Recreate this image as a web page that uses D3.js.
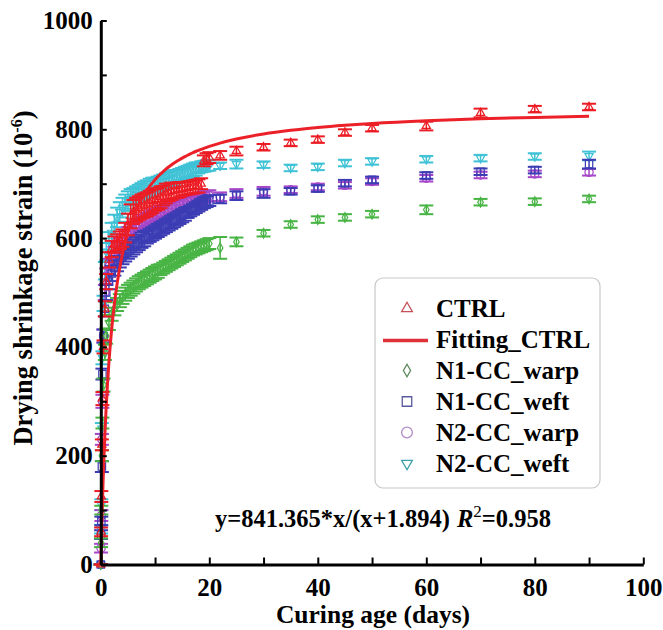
<!DOCTYPE html>
<html>
<head>
<meta charset="utf-8">
<script src="https://cdn.jsdelivr.net/npm/d3@7"></script>
<style>
  body { margin: 0; background: #fff; }
  svg text { font-family: "Liberation Serif", "Times New Roman", serif; font-weight: bold; fill: #000; }
</style>
</head>
<body>
<svg id="chart" width="663" height="630"></svg>
<script>
// curing age in days, shared by all series
var days = [0, 0.05, 0.1, 0.2, 0.3, 0.5, 0.75,
  1, 1.5, 2, 2.5, 3, 3.5, 4, 4.5, 5, 5.5, 6, 6.5, 7, 7.5, 8, 8.5, 9, 9.5, 10,
  10.5, 11, 11.5, 12, 12.5, 13, 13.5, 14, 14.5, 15, 15.5, 16, 16.5, 17, 17.5, 18, 18.5, 19, 19.5, 20,
  22, 25, 30, 35, 40, 45, 50, 60, 70, 80, 90];

var ctrl = [0, 60, 125, 220, 305, 400, 470,
  520, 560, 580, 588, 592, 596, 600, 610, 625, 640, 648, 652, 655, 658, 660, 662, 665, 668, 670,
  672, 675, 678, 682, 684, 686, 687, 688, 689, 690, 691, 692, 693, 694, 695, 696, 700, 742, 746, 748,
  752, 760, 767, 775, 781, 794, 802, 806, 830, 837, 841];
var ctrlErr = [0, 8, 10, 10, 12, 12, 14,
  14, 14, 15, 15, 15, 16, 16, 18, 20, 22, 22, 22, 22, 22, 22, 22, 22, 22, 20,
  20, 20, 18, 18, 16, 16, 14, 14, 14, 12, 12, 12, 12, 12, 12, 12, 10, 10, 10, 10,
  8, 8, 6, 6, 6, 6, 6, 8, 8, 6, 6];

var n1Warp = [0, 40, 100, 200, 260, 330, 390,
  420, 445, 460, 470, 478, 485, 491, 497, 502, 506, 510, 514, 518, 521, 524, 527, 530, 533, 536,
  539, 542, 545, 548, 551, 554, 557, 560, 563, 566, 569, 572, 575, 578, 580, 582, 584, 586, 588, 590,
  582, 593, 609, 625, 634, 638, 644, 652, 666, 667, 672];
var n1WarpErr = [0, 8, 8, 10, 10, 12, 14,
  14, 14, 12, 12, 12, 12, 12, 12, 12, 12, 12, 12, 12, 12, 12, 12, 12, 12, 12,
  12, 10, 10, 10, 10, 10, 10, 10, 10, 10, 10, 10, 10, 10, 10, 10, 10, 10, 10, 10,
  20, 8, 6, 6, 6, 6, 6, 8, 6, 6, 6];

var n1Weft = [0, 55, 80, 180, 350, 420, 470,
  500, 520, 535, 545, 553, 560, 566, 571, 576, 580, 584, 588, 592, 596, 599, 602, 605, 608, 611,
  614, 617, 620, 623, 626, 629, 632, 635, 638, 641, 644, 647, 650, 653, 656, 659, 662, 665, 667, 669,
  672, 678, 682, 686, 691, 701, 707, 715, 722, 725, 736];
var n1WeftErr = [0, 8, 8, 10, 10, 12, 14,
  14, 14, 14, 14, 14, 14, 14, 14, 14, 14, 14, 14, 14, 14, 14, 12, 12, 12, 12,
  12, 12, 12, 12, 12, 12, 12, 12, 12, 12, 12, 10, 10, 10, 10, 10, 10, 10, 10, 10,
  8, 8, 8, 6, 6, 6, 6, 6, 6, 6, 8];

var n2Warp = [0, 30, 90, 230, 300, 420, 500,
  530, 548, 560, 570, 578, 586, 593, 600, 606, 611, 616, 620, 624, 628, 631, 634, 637, 640, 642,
  645, 647, 649, 651, 653, 655, 657, 659, 661, 663, 665, 667, 668, 670, 671, 673, 674, 676, 677, 678,
  676, 682, 686, 689, 694, 697, 704, 710, 716, 718, 721];
var n2WarpErr = [0, 8, 10, 10, 12, 12, 14,
  14, 14, 14, 14, 14, 14, 14, 14, 14, 14, 14, 14, 12, 12, 12, 12, 12, 12, 12,
  12, 12, 12, 12, 12, 12, 12, 12, 12, 12, 10, 10, 10, 10, 10, 10, 10, 10, 10, 10,
  8, 8, 8, 6, 6, 6, 6, 6, 6, 6, 6];

var n2Weft = [0, 65, 110, 250, 380, 480, 540,
  575, 595, 610, 625, 638, 648, 656, 662, 668, 672, 676, 679, 682, 685, 688, 690, 693, 695, 697,
  699, 701, 703, 705, 707, 709, 711, 713, 715, 717, 719, 721, 723, 725, 727, 729, 731, 732, 733, 734,
  733, 736, 735, 729, 731, 738, 741, 745, 747, 750, 751];
var n2WeftErr = [0, 8, 10, 10, 12, 14, 16,
  16, 16, 18, 18, 18, 18, 18, 18, 18, 18, 16, 16, 16, 16, 16, 16, 16, 16, 14,
  14, 14, 14, 14, 14, 14, 14, 12, 12, 12, 12, 12, 12, 12, 12, 10, 10, 10, 10, 10,
  6, 8, 6, 6, 6, 6, 6, 6, 6, 6, 8];

// fitted hyperbolic model shown on the chart
var fitA = 841.365, fitB = 1.894;

var yTicks = [0, 100, 200, 300, 400, 500, 600, 700, 800, 900, 1000];
var xTicks = [0, 10, 20, 30, 40, 50, 60, 70, 80, 90, 100];

var svg = d3.select("#chart");
var x = d3.scaleLinear().domain([0, 100]).range([100.8, 643.3]);
var y = d3.scaleLinear().domain([0, 1000]).range([564.5, 20.5]);

var series = [
  {name: "CTRL", values: ctrl, err: ctrlErr, color: "#ec1c24", symbol: d3.symbolTriangle, size: 50, rot: 0, legendColor: "#c8505a"},
  {name: "N1-CC_warp", values: n1Warp, err: n1WarpErr, color: "#48b444", symbol: d3.symbolDiamond, size: 45, rot: 0, legendColor: "#5a8a5a"},
  {name: "N1-CC_weft", values: n1Weft, err: n1WeftErr, color: "#3c3cb4", symbol: d3.symbolSquare, size: 90, rot: 0, legendColor: "#5a5aa0"},
  {name: "N2-CC_warp", values: n2Warp, err: n2WarpErr, color: "#a646c8", symbol: d3.symbolCircle, size: 90, rot: 0, legendColor: "#b48cc8"},
  {name: "N2-CC_weft", values: n2Weft, err: n2WeftErr, color: "#40c2d6", symbol: d3.symbolTriangle, size: 50, rot: 180, legendColor: "#3ca0a8"}
];

// draw the last legend entry first so CTRL ends up on top
series.slice().reverse().forEach(function(s) {
  var g = svg.append("g").attr("stroke", s.color).attr("fill", "none");
  var pts = g.selectAll("g").data(days).enter().append("g");
  pts.append("line")
    .attr("x1", function(d) { return x(d); })
    .attr("x2", function(d) { return x(d); })
    .attr("y1", function(d, i) { return y(s.values[i] - s.err[i]); })
    .attr("y2", function(d, i) { return y(s.values[i] + s.err[i]); })
    .attr("stroke-width", 1.5);
  [-1, 1].forEach(function(sign) {
    pts.append("line")
      .attr("x1", function(d) { return x(d) - 7; })
      .attr("x2", function(d) { return x(d) + 7; })
      .attr("y1", function(d, i) { return y(s.values[i] + sign * s.err[i]); })
      .attr("y2", function(d, i) { return y(s.values[i] + sign * s.err[i]); })
      .attr("stroke-width", 2);
  });
  pts.append("path")
    .attr("d", d3.symbol().type(s.symbol).size(s.size * 0.6))
    .attr("transform", function(d, i) {
      return "translate(" + x(d) + "," + y(s.values[i]) + ") rotate(" + s.rot + ")";
    })
    .attr("stroke-width", 1.2);
});

var fitLine = d3.line()
  .x(function(d) { return x(d); })
  .y(function(d) { return y(fitA * d / (d + fitB)); })
  .curve(d3.curveMonotoneX);
svg.append("path").datum(days)
  .attr("d", fitLine)
  .attr("fill", "none")
  .attr("stroke", "#ec2028")
  .attr("stroke-width", 3);

// axes
var yAxis = d3.axisLeft(y).tickValues(yTicks).tickSize(-6).tickSizeOuter(0).tickPadding(8)
  .tickFormat(function(d) { return d % 200 === 0 ? d : ""; });
var gy = svg.append("g").attr("transform", "translate(100.8,0)").call(yAxis);
var xAxis = d3.axisBottom(x).tickValues(xTicks).tickSize(-7).tickSizeOuter(0).tickPadding(14)
  .tickFormat(function(d) { return d % 20 === 0 ? d : ""; });
var gx = svg.append("g").attr("transform", "translate(0,564.5)").call(xAxis);
[gx, gy].forEach(function(g) {
  g.attr("font-size", null).attr("font-family", null);
  g.select(".domain").attr("stroke", "#000").attr("stroke-width", 3);
  g.selectAll(".tick line").attr("stroke", "#000").attr("stroke-width", 2);
  g.selectAll(".tick text").style("font-size", "25px");
});

svg.append("text")
  .attr("x", 373).attr("y", 623)
  .attr("text-anchor", "middle")
  .style("font-size", "25.5px")
  .text("Curing age (days)");

var ylab = svg.append("text")
  .attr("transform", "translate(32,278) rotate(-90)")
  .attr("text-anchor", "middle")
  .style("font-size", "26.5px");
ylab.append("tspan").text("Drying shrinkage strain (10");
ylab.append("tspan").attr("dy", -10).style("font-size", "16px").text("-6");
ylab.append("tspan").attr("dy", 10).text(")");

var eq = svg.append("text").attr("x", 215).attr("y", 527).style("font-size", "24.5px");
eq.append("tspan").text("y=841.365*x/(x+1.894)");
eq.append("tspan").attr("x", 457).style("font-style", "italic").text("R");
eq.append("tspan").attr("dy", -10).style("font-size", "17px").style("font-weight", "normal").text("2");
eq.append("tspan").attr("dy", 10).text("=0.958");

// legend
var legend = svg.append("g");
legend.append("rect")
  .attr("x", 375).attr("y", 278).attr("width", 225).attr("height", 210).attr("rx", 8)
  .attr("fill", "#fff").attr("stroke", "#c8c8c8").attr("stroke-width", 1.2);
var rows = [series[0], {name: "Fitting_CTRL", line: true}].concat(series.slice(1));
rows.forEach(function(r, i) {
  var by = 316.5 + i * 31;
  if (r.line) {
    legend.append("line").attr("x1", 383).attr("x2", 428).attr("y1", by - 7).attr("y2", by - 7)
      .attr("stroke", "#e0303a").attr("stroke-width", 3.5);
  } else {
    legend.append("path")
      .attr("d", d3.symbol().type(r.symbol).size(r.size))
      .attr("transform", "translate(407," + (by - 8) + ") rotate(" + r.rot + ")")
      .attr("fill", "none").attr("stroke", r.legendColor).attr("stroke-width", 1.3);
  }
  legend.append("text").attr("x", 436).attr("y", by).style("font-size", "25px").text(r.name);
});
</script>
</body>
</html>
